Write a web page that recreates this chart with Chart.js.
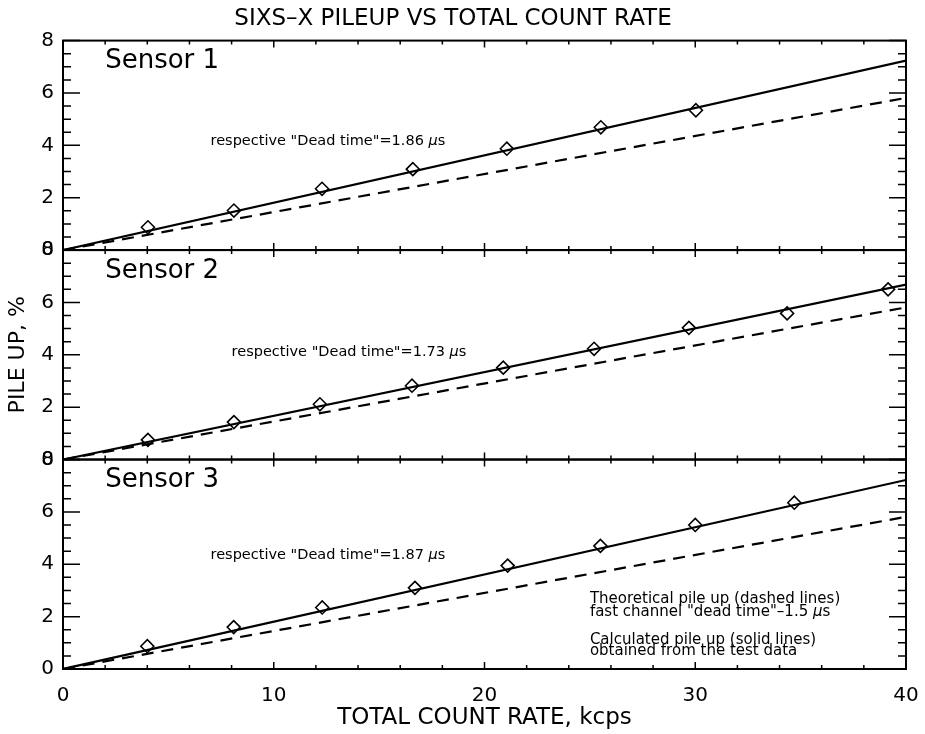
<!DOCTYPE html>
<html>
<head>
<meta charset="utf-8">
<script src="https://cdn.jsdelivr.net/npm/chart.js@4/dist/chart.umd.min.js"></script>
<style>
  html, body { margin: 0; padding: 0; background: #fff; }
  #wrap { width: 925px; height: 734px; }
</style>
</head>
<body>
<div id="wrap"><canvas id="pileup" width="925" height="734"></canvas></div>
<script>
// measured points (diamonds), kcps vs %
const countRate1 = [4.03, 8.11, 12.29, 16.60, 21.06, 25.52, 30.03];
const pileup1 = [0.87, 1.51, 2.34, 3.09, 3.87, 4.69, 5.34];
const countRate2 = [4.03, 8.11, 12.19, 16.56, 20.89, 25.20, 29.70, 34.36, 39.15];
const pileup2 = [0.75, 1.43, 2.11, 2.82, 3.51, 4.23, 5.03, 5.58, 6.50];
const countRate3 = [4.0, 8.1, 12.3, 16.7, 21.1, 25.5, 30.0, 34.7];
const pileup3 = [0.87, 1.60, 2.35, 3.10, 3.95, 4.70, 5.50, 6.35];

// solid (calculated) and dashed (theoretical) lines
const lineRate = [0, 40];
const fit1 = [0, 7.24];
const fit2 = [0, 6.68];
const fit3 = [0, 7.22];
const theory = [0, 5.81];

const panelNames = ['Sensor 1', 'Sensor 2', 'Sensor 3'];
const deadTimes = ['1.86', '1.73', '1.87'];
const yTickLabels = ['0', '2', '4', '6', '8'];
const xTickLabels = ['0', '10', '20', '30', '40'];

const FONT = '"DejaVu Sans", sans-serif';

function pts(xs, ys) {
    return xs.map((x, i) => ({ x: x, y: ys[i] }));
}

function panelSets(axis, rx, ry, fit) {
    return [
        { data: pts(rx, ry), yAxisID: axis, showLine: false, pointStyle: 'rectRot',
          pointRadius: 6.5, borderColor: '#000', backgroundColor: 'rgba(0,0,0,0)', borderWidth: 1.6 },
        { data: pts(lineRate, fit), yAxisID: axis, showLine: true, pointRadius: 0,
          borderColor: '#000', borderWidth: 2.2 },
        { data: pts(lineRate, theory), yAxisID: axis, showLine: true, pointRadius: 0,
          borderColor: '#000', borderWidth: 2.2, borderDash: [12, 8] }
    ];
}

function yAxis(withTitle) {
    return {
        type: 'linear', position: 'left', stack: 'panels', stackWeight: 1,
        min: 0, max: 8,
        grid: { display: false, drawTicks: false },
        border: { display: false },
        ticks: {
            stepSize: 2, padding: 9, color: '#000', font: { family: FONT, size: 20 },
            callback: (v) => yTickLabels[v / 2]
        },
        title: { display: withTitle, text: 'PILE UP, %', color: '#000',
                 font: { family: FONT, size: 22 }, padding: { top: 5, bottom: 0 } },
        afterFit: (s) => { s.width = 63; }
    };
}

// text with an italic mu before "s"
function textWithMu(ctx, before, after, size, x, y) {
    ctx.font = size + 'px ' + FONT;
    ctx.fillText(before, x, y);
    let w = ctx.measureText(before).width;
    ctx.font = 'italic ' + size + 'px ' + FONT;
    ctx.fillText('\u03bc', x + w, y);
    w += ctx.measureText('\u03bc').width;
    ctx.font = size + 'px ' + FONT;
    ctx.fillText(after, x + w, y);
}

// ticks inside every panel, frame, and text notes
const panelDecor = {
    id: 'panelDecor',
    afterDraw(chart) {
        const ctx = chart.ctx;
        const xs = chart.scales.x;
        const ids = ['y1', 'y2', 'y3'];
        ctx.save();
        ctx.strokeStyle = '#000';
        ids.forEach((id, p) => {
            const ys = chart.scales[id];
            ctx.lineWidth = 1.5;
            for (let v = 0; v <= 40; v += 2) {
                const px = xs.getPixelForValue(v);
                const len = v % 10 === 0 ? 7 : 4;
                ctx.beginPath();
                ctx.moveTo(px, ys.bottom); ctx.lineTo(px, ys.bottom - len);
                ctx.moveTo(px, ys.top); ctx.lineTo(px, ys.top + len);
                ctx.stroke();
            }
            for (let v = 0; v <= 8; v += 0.5) {
                const py = ys.getPixelForValue(v);
                const len = v % 2 === 0 ? 17 : 8;
                ctx.beginPath();
                ctx.moveTo(xs.left, py); ctx.lineTo(xs.left + len, py);
                ctx.moveTo(xs.right, py); ctx.lineTo(xs.right - len, py);
                ctx.stroke();
            }
            ctx.lineWidth = 2;
            ctx.strokeRect(xs.left, ys.top, xs.right - xs.left, ys.bottom - ys.top);

            ctx.fillStyle = '#000';
            ctx.textBaseline = 'middle';
            ctx.textAlign = 'left';
            ctx.font = '26px ' + FONT;
            ctx.fillText(panelNames[p], xs.getPixelForValue(2.0), ys.getPixelForValue(7.2));
            const noteX = [7.0, 8.0, 7.0][p];
            const noteY = [4.14, 4.1, 4.33][p];
            textWithMu(ctx, 'respective "Dead time"=' + deadTimes[p] + ' ', 's', 14.5,
                xs.getPixelForValue(noteX), ys.getPixelForValue(noteY));
        });
        const y3 = chart.scales.y3;
        const lx = xs.getPixelForValue(25.0);
        ctx.font = '15px ' + FONT;
        ctx.fillText('Theoretical pile up (dashed lines)', lx, y3.getPixelForValue(2.68));
        textWithMu(ctx, 'fast channel "dead time"\u20131.5 ', 's', 15, lx, y3.getPixelForValue(2.18));
        ctx.font = '15px ' + FONT;
        ctx.fillText('Calculated pile up (solid lines)', lx, y3.getPixelForValue(1.11));
        ctx.fillText('obtained from the test data', lx, y3.getPixelForValue(0.69));
        ctx.restore();
    }
};

new Chart(document.getElementById('pileup'), {
    type: 'scatter',
    data: {
        datasets: [
            ...panelSets('y1', countRate1, pileup1, fit1),
            ...panelSets('y2', countRate2, pileup2, fit2),
            ...panelSets('y3', countRate3, pileup3, fit3)
        ]
    },
    options: {
        responsive: false,
        animation: false,
        events: [],
        layout: { padding: { left: 0, right: 19, top: 0, bottom: 0 } },
        plugins: {
            legend: { display: false },
            tooltip: { enabled: false },
            title: {
                display: true, text: 'SIXS\u2013X PILEUP VS TOTAL COUNT RATE', color: '#000',
                font: { family: FONT, size: 23, weight: 'normal' },
                padding: { top: 5, bottom: 8 }
            }
        },
        scales: {
            x: {
                type: 'linear', position: 'bottom', min: 0, max: 40,
                grid: { display: false, drawTicks: false },
                border: { display: false },
                ticks: {
                    stepSize: 10, padding: 15, color: '#000', font: { family: FONT, size: 20 },
                    callback: (v) => xTickLabels[v / 10]
                },
                title: { display: true, text: 'TOTAL COUNT RATE, kcps', color: '#000',
                         font: { family: FONT, size: 23 }, padding: { top: 0, bottom: 2 } },
                afterFit: (s) => { s.height = 65; s.paddingLeft = 0; s.paddingRight = 0; }
            },
            // stacked axes are laid out bottom-up
            y3: yAxis(false),
            y2: yAxis(true),
            y1: yAxis(false)
        }
    },
    plugins: [panelDecor]
});
</script>
</body>
</html>
